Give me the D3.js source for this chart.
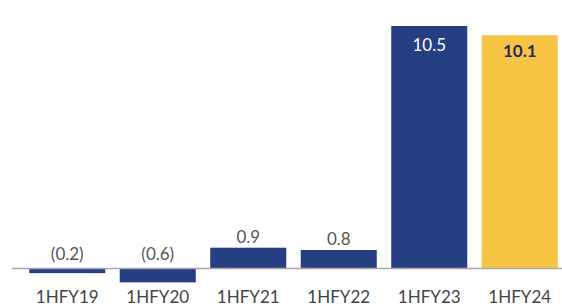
<!DOCTYPE html>
<html>
<head>
<meta charset="utf-8">
<script src="https://cdn.jsdelivr.net/npm/d3@7"></script>
<style>
  body { margin: 0; background: #fff; }
  text { font-family: Lato, "Open Sans", sans-serif; }
</style>
</head>
<body>
<svg id="chart"></svg>
<script>
var periods = ["1HFY19", "1HFY20", "1HFY21", "1HFY22", "1HFY23", "1HFY24"];
var values = [-0.2, -0.6, 0.9, 0.8, 10.5, 10.1];
var valueLabels = ["(0.2)", "(0.6)", "0.9", "0.8", "10.5", "10.1"];

var width = 562, height = 306;
var navy = "#263e82", gold = "#f8c444";

var svg = d3.select("#chart")
    .attr("width", width)
    .attr("height", height);

var x = d3.scaleBand()
    .domain(periods)
    .range([22, 565])
    .paddingInner(0.16)
    .paddingOuter(0.08);

var y = d3.scaleLinear()
    .domain([0, 10.5])
    .range([268.5, 26]);

var rows = periods.map((p, i) => ({ period: p, value: values[i], label: valueLabels[i], last: i == periods.length - 1 }));

// bars
svg.selectAll(".bar")
    .data(rows)
    .join("rect")
    .attr("class", "bar")
    .attr("x", d => x(d.period))
    .attr("width", x.bandwidth())
    .attr("y", d => y(Math.max(0, d.value)))
    .attr("height", d => Math.abs(y(d.value) - y(0)))
    .attr("fill", d => d.last ? gold : navy);

// zero line
svg.append("line")
    .attr("x1", 12).attr("x2", width)
    .attr("y1", y(0)).attr("y2", y(0))
    .attr("stroke", "#a8a8a8")
    .attr("stroke-width", 1.5);

// value labels
svg.selectAll(".val")
    .data(rows)
    .join("text")
    .attr("class", "val")
    .attr("x", d => x(d.period) + x.bandwidth() / 2)
    .attr("y", d => {
        if (d.value > 5) return y(d.value) + (d.last ? 22 : 25);
        if (d.value < 0) return y(0) - 8.5;
        return y(d.value) - 5;
    })
    .attr("text-anchor", "middle")
    .attr("font-size", 17)
    .attr("font-weight", d => d.last ? 700 : 400)
    .attr("fill", d => d.value > 5 ? (d.last ? "#1f2a5c" : "#ffffff") : "#555555")
    .text(d => d.label);

// category axis
var xAxis = svg.append("g")
    .attr("transform", "translate(0,303)")
    .call(d3.axisBottom(x).tickSize(0).tickPadding(0));
xAxis.select(".domain").remove();
xAxis.selectAll("text")
    .attr("dy", 0)
    .attr("font-size", 17)
    .attr("font-family", "Lato, sans-serif")
    .attr("font-weight", 400)
    .attr("fill", "#444444");
</script>
</body>
</html>
